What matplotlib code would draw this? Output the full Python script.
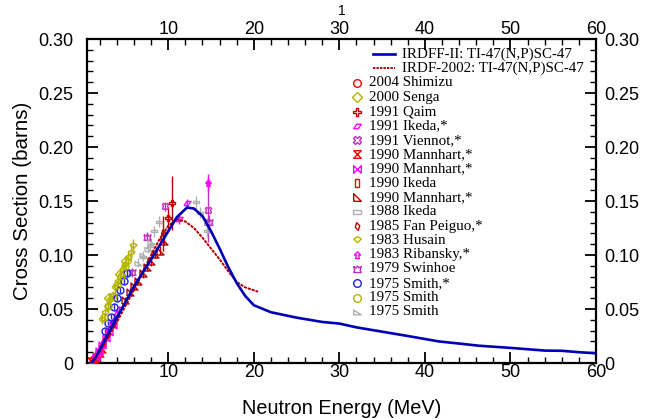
import matplotlib
matplotlib.use("Agg")
import matplotlib.pyplot as plt
from matplotlib.ticker import MultipleLocator, FixedLocator

# ---------------- data ----------------
irdff_x = [1.0, 1.5, 2.5, 4.0, 6.0, 8.0, 10.0, 11.0, 12.2, 13.0, 14.0, 15.0, 16.0, 17.0,
           18.0, 19.0, 20.0, 22.0, 25.0, 28.0, 30.0, 32.0, 35.0, 38.0, 41.6, 44.0, 46.3,
           50.0, 54.0, 56.0, 58.0, 60.0]
irdff_y = [0.0, 0.005, 0.020, 0.042, 0.071, 0.096, 0.122, 0.135, 0.144, 0.143, 0.136, 0.122,
           0.106, 0.089, 0.074, 0.062, 0.0535, 0.047, 0.042, 0.038, 0.0365, 0.033, 0.029,
           0.025, 0.020, 0.018, 0.016, 0.0140, 0.0115, 0.0113, 0.010, 0.009]

irdf_x = [1.0, 2.0, 3.0, 4.0, 5.0, 6.0, 7.0, 8.0, 9.0, 10.0, 11.0, 12.0, 13.0, 14.0, 15.0,
          16.0, 17.0, 18.0, 19.0, 20.5]
irdf_y = [0.0, 0.011, 0.024, 0.038, 0.053, 0.068, 0.084, 0.100, 0.115, 0.127, 0.133, 0.131,
          0.125, 0.116, 0.106, 0.096, 0.085, 0.075, 0.070, 0.066]

shimizu_x = [1.2, 1.5, 1.8]
shimizu_y = [0.002, 0.004, 0.008]
shimizu_e = [0.001, 0.001, 0.001]

senga_x = [3.1, 4.3, 5.1]
senga_y = [0.060, 0.082, 0.094]
senga_e = [0.004, 0.005, 0.005]

qaim_x = [10.0, 10.4]
qaim_y = [0.134, 0.148]
qaim_e = [0.010, 0.025]

ikeda91_x = [1.4, 1.6, 1.8, 2.0, 2.2, 2.4, 2.6, 2.8, 3.0, 3.2, 3.4, 3.6, 3.8, 4.0, 4.2, 11.2, 12.2]
ikeda91_y = [0.004, 0.007, 0.010, 0.013, 0.016, 0.019, 0.022, 0.025, 0.029, 0.032, 0.035,
             0.039, 0.042, 0.046, 0.050, 0.133, 0.148]
ikeda91_e = [0.001, 0.001, 0.001, 0.002, 0.002, 0.002, 0.002, 0.002, 0.002, 0.002, 0.003,
             0.003, 0.003, 0.003, 0.003, 0.004, 0.004]

viennot_x = [9.6, 14.6]
viennot_y = [0.145, 0.142]
viennot_e = [0.004, 0.030]

mann1_x = [1.0, 1.3, 1.6, 2.0, 2.3]
mann1_y = [0.002, 0.003, 0.006, 0.009, 0.013]
mann1_e = [0.001, 0.001, 0.001, 0.001, 0.001]

mann2_x = [1.5, 1.9, 2.3, 2.7, 3.1, 3.5]
mann2_y = [0.006, 0.011, 0.017, 0.023, 0.029, 0.035]
mann2_e = [0.001, 0.001, 0.002, 0.002, 0.002, 0.002]

ikeda90_x = [2.5, 3.0, 3.6]
ikeda90_y = [0.020, 0.027, 0.036]
ikeda90_e = [0.002, 0.002, 0.002]

mann3_x = [5.0, 5.5, 6.0, 6.5, 7.0, 7.5, 8.0, 8.5, 9.0, 9.5]
mann3_y = [0.058, 0.066, 0.071, 0.076, 0.083, 0.089, 0.094, 0.101, 0.104, 0.113]
mann3_e = [0.003, 0.003, 0.003, 0.003, 0.004, 0.004, 0.004, 0.004, 0.004, 0.004]

ikeda88_x = [7.1, 7.9, 8.3, 8.9, 13.3, 13.7, 14.5, 14.5]
ikeda88_y = [0.098, 0.108, 0.122, 0.131, 0.149, 0.139, 0.129, 0.122]
ikeda88_e = [0.004, 0.004, 0.005, 0.005, 0.006, 0.005, 0.005, 0.005]

fan_x = [9.4]
fan_y = [0.120]
fan_e = [0.016]

husain_x = [2.3, 2.6, 2.9, 3.2, 3.5, 3.8, 4.1, 4.4, 4.7, 5.0, 5.3, 5.6, 5.9]
husain_y = [0.040, 0.046, 0.052, 0.058, 0.062, 0.069, 0.075, 0.079, 0.086, 0.091, 0.097,
            0.102, 0.108]
husain_e = [0.004, 0.004, 0.004, 0.005, 0.005, 0.005, 0.005, 0.006, 0.006, 0.006, 0.006,
            0.007, 0.007]

ribansky_x = [14.7]
ribansky_y = [0.167]
ribansky_e = [0.008]

swinhoe_x = [5.8, 7.5, 14.8]
swinhoe_y = [0.084, 0.117, 0.131]
swinhoe_e = [0.004, 0.004, 0.006]

smith1_x = [2.6, 3.0, 3.3, 3.7, 4.0, 4.4, 4.8, 5.2]
smith1_y = [0.030, 0.037, 0.043, 0.052, 0.060, 0.068, 0.076, 0.083]
smith1_e = [0.002, 0.002, 0.002, 0.003, 0.003, 0.003, 0.003, 0.003]

smith2_x = [2.5, 3.0, 3.5, 4.0, 4.5, 5.0]
smith2_y = [0.043, 0.053, 0.062, 0.072, 0.081, 0.090]
smith2_e = [0.003, 0.003, 0.004, 0.004, 0.004, 0.004]

smith3_x = [6.5, 7.0, 7.6, 8.0]
smith3_y = [0.093, 0.100, 0.106, 0.112]
smith3_e = [0.004, 0.004, 0.004, 0.004]

xticks = [10, 20, 30, 40, 50, 60]
yticks = [0, 0.05, 0.10, 0.15, 0.20, 0.25, 0.30]
ytick_labels = ["0", "0.05", "0.10", "0.15", "0.20", "0.25", "0.30"]

# --------------- markers -------------
hourglass = [(-1, 1), (1, 1), (-1, -1), (1, -1), (-1, 1)]
bowtie = [(1, -1), (1, 1), (-1, -1), (-1, 1), (1, -1)]
tallrect = [(-0.4, -1), (0.4, -1), (0.4, 1), (-0.4, 1), (-0.4, -1)]
widerect = [(-1, -0.4), (1, -0.4), (1, 0.4), (-1, 0.4), (-1, -0.4)]
rtri = [(-1, -1), (1, -1), (-1, 1), (-1, -1)]
parallelo = [(-1, -0.6), (0.2, -0.6), (1, 0.6), (-0.2, 0.6), (-1, -0.6)]
slantdia = [(-0.6, -0.2), (0.2, -1), (0.6, 0.2), (-0.2, 1), (-0.6, -0.2)]
boat = [(-1, 0.4), (0, 1), (1, 0.4), (0, -0.6), (-1, 0.4)]
arrow = [(0, 1), (0.8, 0.1), (0.3, 0.1), (0.5, -0.8), (-0.5, -0.8), (-0.3, 0.1), (-0.8, 0.1), (0, 1)]
crown = [(-1, 0.8), (-0.4, 0.4), (0, 0.9), (0.4, 0.4), (1, 0.8), (0.7, -0.3), (1, -0.8),
         (-1, -0.8), (-0.7, -0.3), (-1, 0.8)]
gtri = [(-1, -0.6), (1, -0.6), (-1, 0.6), (-1, -0.6)]

series = [
    ("2004 Shimizu", shimizu_x, shimizu_y, shimizu_e, "#ff0000", "o"),
    ("2000 Senga", senga_x, senga_y, senga_e, "#b5b500", "D"),
    ("1991 Qaim", qaim_x, qaim_y, qaim_e, "#c00000", "P"),
    ("1991 Ikeda,*", ikeda91_x, ikeda91_y, ikeda91_e, "#ff00ff", parallelo),
    ("1991 Viennot,*", viennot_x, viennot_y, viennot_e, "#c030c0", "X"),
    ("1990 Mannhart,*", mann1_x, mann1_y, mann1_e, "#ff0000", hourglass),
    ("1990 Mannhart,*", mann2_x, mann2_y, mann2_e, "#ff00ff", bowtie),
    ("1990 Ikeda", ikeda90_x, ikeda90_y, ikeda90_e, "#ff0000", tallrect),
    ("1990 Mannhart,*", mann3_x, mann3_y, mann3_e, "#b00000", rtri),
    ("1988 Ikeda", ikeda88_x, ikeda88_y, ikeda88_e, "#b0b0b0", widerect),
    ("1985 Fan Peiguo,*", fan_x, fan_y, fan_e, "#c00000", slantdia),
    ("1983 Husain", husain_x, husain_y, husain_e, "#b5b500", boat),
    ("1983 Ribansky,*", ribansky_x, ribansky_y, ribansky_e, "#ff00ff", arrow),
    ("1979 Swinhoe", swinhoe_x, swinhoe_y, swinhoe_e, "#c030c0", crown),
    ("1975 Smith,*", smith1_x, smith1_y, smith1_e, "#2020e0", "o"),
    ("1975 Smith", smith2_x, smith2_y, smith2_e, "#b5b500", "o"),
    ("1975 Smith", smith3_x, smith3_y, smith3_e, "#b0b0b0", gtri),
]

# --------------- figure --------------
fig = plt.figure(figsize=(6.47, 4.19), dpi=100)
W, H = 647, 419
L, R, T, B = 87, 596, 39, 363
ax = fig.add_axes([L / W, 1 - B / H, (R - L) / W, (B - T) / H])

sans = "Liberation Sans"
serif = "Liberation Serif"

for name, xs, ys, es, col, mk in series:
    ax.errorbar(xs, ys, yerr=es, fmt="none", ecolor=col, elinewidth=1.0, zorder=2)
    ax.plot(xs, ys, linestyle="none", marker=mk, markersize=5, markerfacecolor="none",
            markeredgecolor=col, markeredgewidth=1.0, zorder=3)

ax.plot(irdff_x, irdff_y, color="#0000b4", lw=1.9, zorder=5)
ax.plot(irdf_x, irdf_y, color="#b00000", lw=1.4, linestyle=(0, (1.6, 0.5)), zorder=4)

ax.set_xlim(0.5, 60)
ax.set_ylim(0, 0.30)

ax.xaxis.set_major_locator(FixedLocator(xticks))
ax.xaxis.set_minor_locator(MultipleLocator(2))
ax.yaxis.set_major_locator(FixedLocator(yticks))
ax.set_yticklabels(ytick_labels)
ax.yaxis.set_minor_locator(MultipleLocator(0.01))

ax.tick_params(which="both", direction="in", top=True, right=True, labeltop=True,
               labelright=False, labelsize=13, width=1.3)
ax.tick_params(which="major", length=8)
ax.tick_params(which="minor", length=4.5, width=1.0)
ax.tick_params(axis="x", which="major", pad=1)
ax.tick_params(axis="y", which="major", pad=10)
for lab in ax.get_xticklabels() + ax.get_yticklabels():
    lab.set_fontfamily(sans)
for sp in ax.spines.values():
    sp.set_linewidth(1.6)

# right-hand tick labels with their own spacing
sec = ax.secondary_yaxis("right")
sec.set_yticks(yticks)
sec.set_yticklabels(ytick_labels)
sec.tick_params(direction="in", length=0, pad=6, labelsize=13)
for lab in sec.get_yticklabels():
    lab.set_fontfamily(sans)
sec.spines["right"].set_visible(False)

ax.set_xlabel("Neutron Energy (MeV)", fontsize=14.3, fontfamily=sans, labelpad=13)
ax.set_ylabel("Cross Section (barns)", fontsize=14.8, fontfamily=sans, labelpad=4)

fig.text(342 / W, 1 - 11 / H, "1", fontsize=10, fontfamily=sans, ha="center", va="center")

# --------------- legend (manual) ---------------
def fx(px):
    return (px - L) / (R - L)

def fy(py):
    return (B - py) / (B - T)

line_entries = [("IRDFF-II: TI-47(N,P)SC-47", "#0000b4", "-", 1.9),
                ("IRDF-2002: TI-47(N,P)SC-47", "#b00000", (0, (1.2, 0.6)), 1.4)]
for i, (lab, col, ls, lw) in enumerate(line_entries):
    py = 54 + 14.3 * i
    ax.plot([fx(373), fx(395)], [fy(py), fy(py)], color=col, ls=ls, lw=lw,
            transform=ax.transAxes, clip_on=False)
    ax.text(fx(402), fy(py), lab, transform=ax.transAxes, fontsize=10.8, fontfamily=serif,
            va="center", ha="left")

for i, (name, xs, ys, es, col, mk) in enumerate(series):
    py = 83 + 14.3 * i
    ax.plot([fx(357)], [fy(py)], marker=mk, markersize=5.5, markerfacecolor="none",
            markeredgecolor=col, markeredgewidth=1.0, transform=ax.transAxes, clip_on=False)
    ax.text(fx(369), fy(py), name, transform=ax.transAxes, fontsize=10.8, fontfamily=serif,
            va="center", ha="left")

fig.savefig("out.png", dpi=100)
